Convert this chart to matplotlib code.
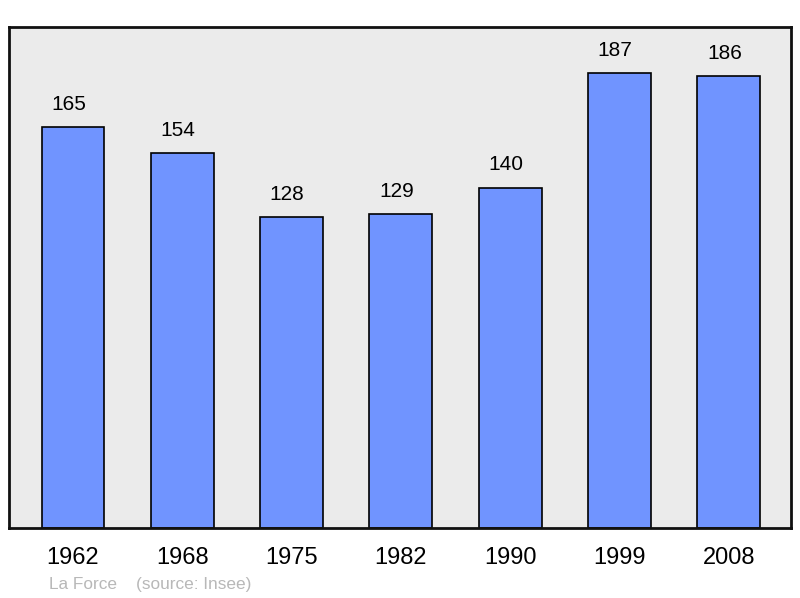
import matplotlib
matplotlib.use("Agg")
import matplotlib.pyplot as plt

years = ["1962", "1968", "1975", "1982", "1990", "1999", "2008"]
population = [165, 154, 128, 129, 140, 187, 186]
title_text = "La Force    (source: Insee)"

plt.rcParams['font.family'] = ['Liberation Sans', 'DejaVu Sans']

fig = plt.figure(figsize=(8.0, 5.98), dpi=100)
ax = fig.add_axes([9/800, 1 - 528/598, 782/800, 501/598])
ax.set_facecolor('#ebebeb')
x = list(range(len(years)))
ax.bar(x, population, width=0.575, color='#7094ff', edgecolor='black', linewidth=1.2, zorder=2)
for xi, v in zip(x, population):
    ax.text(xi - 0.04, v + 9.3, str(v), ha='center', va='center', fontsize=15, color='black')
ax.set_xlim(-0.585, 6.57)
ax.set_ylim(0, 206)
ax.set_yticks([])
ax.set_xticks(x)
ax.set_xticklabels(years, fontsize=17)
ax.tick_params(axis='x', length=0, pad=14)
for s in ax.spines.values():
    s.set_linewidth(2)
    s.set_color('#111111')
fig.text(49/800, 1 - 585/598, title_text, fontsize=12.4, color='#b8b8b8', ha='left', va='center')
fig.savefig('out.png', dpi=100)
